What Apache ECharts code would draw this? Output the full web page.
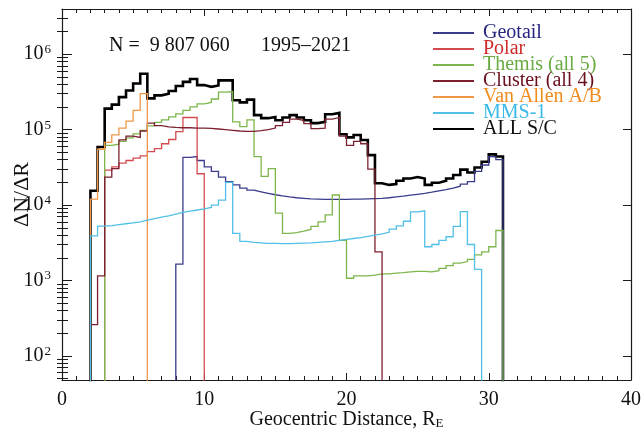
<!DOCTYPE html>
<html>
<head>
<meta charset="utf-8">
<script src="https://cdn.jsdelivr.net/npm/echarts@6/dist/echarts.min.js"></script>
<style>
  html, body { margin: 0; padding: 0; background: #fff; }
  #chart { width: 642px; height: 435px; }
</style>
</head>
<body>
<div id="chart"></div>
<script>
// histograms in 0.5 R_E bins; each list holds counts per bin from its start distance
const binWidth = 0.5;

const allStart = 2.0;
const allSC = [1.55e4, 5.9e4, 1.9e5, 2.15e5, 2.7e5, 3.3e5, 4.1e5, 5.5e5, 2.6e5, 2.85e5,
  3.0e5, 3.25e5, 3.8e5, 4.3e5, 4.7e5, 3.9e5, 3.7e5, 3.85e5, 4.5e5, 4.5e5,
  2.45e5, 2.3e5, 2.5e5, 1.56e5, 1.42e5, 1.47e5, 1.33e5, 1.45e5, 1.56e5, 1.45e5,
  1.33e5, 1.22e5, 1.27e5, 1.6e5, 1.67e5, 8.7e4, 7.9e4, 8.5e4, 7.3e4, 4.6e4,
  1.95e4, 1.85e4, 1.9e4, 2.1e4, 2.25e4, 2.35e4, 2.25e4, 1.85e4, 1.98e4, 2.1e4,
  2.25e4, 2.5e4, 2.95e4, 2.7e4, 3.15e4, 3.75e4, 4.7e4, 4.4e4];

const geotailStart = 8.0;
const geotail = [1.65e3, 4.3e4, 4.4e4, 3.9e4, 3.2e4, 2.8e4, 2.35e4, 2.05e4, 1.85e4, 1.68e4,
  1.58e4, 1.5e4, 1.43e4, 1.37e4, 1.32e4, 1.28e4, 1.25e4, 1.23e4, 1.21e4, 1.2e4,
  1.19e4, 1.19e4, 1.19e4, 1.19e4, 1.2e4, 1.2e4, 1.21e4, 1.22e4, 1.23e4, 1.25e4,
  1.28e4, 1.31e4, 1.35e4, 1.39e4, 1.43e4, 1.48e4, 1.54e4, 1.6e4, 1.68e4, 1.78e4,
  1.9e4, 2.05e4, 2.8e4, 3.4e4, 4.4e4, 4.0e4];

const polarStart = 3.0;
const polar = [2.9e4, 3.2e4, 3.6e4, 3.9e4, 4.2e4, 4.5e4, 5.1e4, 5.6e4, 6.5e4, 7.4e4,
  9.4e4, 1.45e5, 1.45e5, 2.6e4];

const themisStart = 3.0;
const themis = [6.2e4, 6.4e4, 7.0e4, 7.8e4, 8.8e4, 9.8e4, 1.12e5, 1.25e5, 1.35e5, 1.48e5,
  1.62e5, 1.8e5, 2.0e5, 2.2e5, 2.3e5, 2.55e5, 3.15e5, 3.2e5,
  1.27e5, 1.1e5, 1.35e5, 4.4e4, 2.4e4, 3.05e4, 7.8e3, 4.2e3, 4.3e3, 4.5e3,
  4.75e3, 5.2e3, 6.0e3, 7.4e3, 1.36e4, 3.4e3,
  1.07e3, 1.15e3, 1.15e3, 1.18e3, 1.22e3, 1.22e3, 1.25e3, 1.27e3, 1.3e3, 1.32e3,
  1.32e3, 1.3e3, 1.35e3, 1.45e3, 1.57e3, 1.7e3, 1.78e3, 1.9e3, 2.18e3, 2.4e3,
  2.8e3, 4.6e3];

const clusterStart = 2.0;
const cluster = [2.6e2, 1.15e3, 2.35e4, 3.05e4, 7.3e4, 8.2e4, 7.9e4, 9.6e4, 1.22e5, 1.13e5,
  1.09e5, 1.07e5, 1.06e5, 1.06e5, 1.05e5, 1.05e5, 1.04e5, 1.02e5, 1.0e5, 9.8e4,
  9.6e4, 9.5e4, 9.5e4, 9.7e4, 1.0e5, 1.05e5, 1.13e5, 1.25e5, 1.38e5, 1.33e5,
  1.2e5, 1.03e5, 1.05e5, 1.38e5, 1.45e5, 8.2e4, 6.2e4, 7.0e4, 6.5e4, 3.0e4,
  2.4e3];

const vanAllenStart = 2.0;
const vanAllen = [1.2e4, 5.5e4, 6.8e4, 8.5e4, 1.05e5, 1.3e5, 1.8e5, 3.0e5];

const mmsStart = 2.0;
const mms = [3.9e3, 5.25e3, 5.35e3, 5.5e3, 5.65e3, 5.8e3, 6.0e3, 6.3e3, 6.6e3, 6.9e3,
  7.2e3, 7.6e3, 8.0e3, 8.3e3, 8.6e3, 8.9e3, 9.3e3, 1.0e4, 1.16e4, 2.0e4,
  4.2e3, 3.3e3, 3.2e3, 3.15e3, 3.1e3, 3.1e3, 3.08e3, 3.08e3, 3.1e3, 3.12e3,
  3.15e3, 3.2e3, 3.25e3, 3.3e3, 3.4e3, 3.5e3, 3.6e3, 3.7e3, 3.85e3, 4.0e3,
  4.15e3, 4.35e3, 4.8e3, 5.3e3, 6.1e3, 8.1e3, 8.4e3, 2.8e3, 3.0e3, 3.4e3,
  3.8e3, 5.2e3, 8.2e3, 3.0e3, 1.4e3];

// y axis runs on log10(counts)
const yMin = 1.68, yMax = 6.6;
const yMajor = [2, 3, 4, 5, 6];
const yMinor = [];
for (let n = 1; n <= 6; n++) {
  for (let k = 2; k <= 9; k++) {
    const v = Math.log10(k * Math.pow(10, n));
    if (v > yMin && v < yMax) yMinor.push(v);
  }
}
const floorLog = 0; // below the axis bottom, clipped away

function histPoints(start, counts) {
  const pts = [[start, floorLog]];
  counts.forEach(function (c, i) {
    pts.push([start + i * binWidth, Math.log10(c)]);
  });
  pts.push([start + counts.length * binWidth, floorLog]);
  return pts;
}

const font = '"Liberation Serif", "Times New Roman", serif';
const axisColor = '#1a1a1a';

function histSeries(name, start, counts, color, width) {
  return {
    name: name,
    type: 'line',
    step: 'end',
    symbol: 'none',
    clip: true,
    data: histPoints(start, counts),
    lineStyle: { color: color, width: width, join: 'miter', cap: 'butt' },
    itemStyle: { color: color },
  };
}

const yBase = {
  type: 'value',
  min: yMin,
  max: yMax,
  splitLine: { show: false },
  axisLine: { show: true, onZero: false, lineStyle: { color: axisColor, width: 1.2 } },
};
const xBase = {
  type: 'value',
  min: 0,
  max: 40,
  interval: 10,
  splitLine: { show: false },
  axisLine: { show: true, onZero: false, lineStyle: { color: axisColor, width: 1.2 } },
  axisTick: { inside: true, length: 7, lineStyle: { color: axisColor } },
  minorTick: { show: true, splitNumber: 10, length: 4, lineStyle: { color: axisColor } },
};

const option = {
  animation: false,
  backgroundColor: '#fff',
  grid: { left: 62, right: 11, top: 9, bottom: 55, outerBoundsMode: 'none', containLabel: false },
  title: [
    { text: 'N =  9 807 060', left: 109, top: 36, padding: 0,
      textStyle: { fontFamily: font, fontWeight: 'normal', fontSize: 20, color: '#111' } },
    { text: '1995–2021', left: 261, top: 36, padding: 0,
      textStyle: { fontFamily: font, fontWeight: 'normal', fontSize: 20, color: '#111' } },
  ],
  legend: {
    orient: 'vertical',
    left: 432,
    top: 23,
    padding: 0,
    itemWidth: 41,
    itemHeight: 10,
    itemGap: -4,
    selectedMode: false,
    itemStyle: { opacity: 0 },
    textStyle: { fontFamily: font, fontSize: 20, padding: [0, 0, 0, 4] },
    data: [
      { name: 'Geotail', textStyle: { color: '#262680' } },
      { name: 'Polar', textStyle: { color: '#d12a2a' } },
      { name: 'Themis (all 5)', textStyle: { color: '#6aab43' } },
      { name: 'Cluster (all 4)', textStyle: { color: '#6a0f1c' } },
      { name: 'Van Allen A/B', textStyle: { color: '#f08c1e' } },
      { name: 'MMS-1', textStyle: { color: '#3bb9e8' } },
      { name: 'ALL S/C', textStyle: { color: '#111' } },
    ],
  },
  xAxis: [
    Object.assign({}, xBase, {
      position: 'bottom',
      axisLabel: { margin: 10, fontFamily: font, fontSize: 20, color: '#111' },
      name: '{a|Geocentric Distance, R}{e|E}',
      nameLocation: 'middle',
      nameGap: 30,
      nameMoveOverlap: false,
      nameTextStyle: {
        rich: {
          a: { fontFamily: font, fontSize: 20, color: '#111', lineHeight: 20 },
          e: { fontFamily: font, fontSize: 13, color: '#111', lineHeight: 20, verticalAlign: 'bottom', padding: [8, 0, 0, 0] },
        },
      },
    }),
    Object.assign({}, xBase, { position: 'top', axisLabel: { show: false } }),
  ],
  yAxis: [
    Object.assign({}, yBase, {
      position: 'left',
      axisTick: { inside: true, length: 10, customValues: yMajor, lineStyle: { color: axisColor } },
      axisLabel: {
        customValues: yMajor,
        margin: 11,
        formatter: function (v) { return '{b|10}{s|' + Math.round(v) + '}'; },
        rich: {
          b: { fontFamily: font, fontSize: 20, color: '#111', lineHeight: 22 },
          s: { fontFamily: font, fontSize: 13, color: '#111', lineHeight: 22, verticalAlign: 'top', padding: [0, 0, 12, 1] },
        },
      },
      name: 'ΔN/ΔR',
      nameLocation: 'middle',
      nameGap: 29,
      nameMoveOverlap: false,
      nameTextStyle: { fontFamily: font, fontSize: 22, color: '#111' },
    }),
    Object.assign({}, yBase, {
      position: 'left',
      axisLine: { show: false },
      axisTick: { inside: true, length: 6, customValues: yMinor, lineStyle: { color: axisColor } },
      axisLabel: { show: false },
    }),
    Object.assign({}, yBase, {
      position: 'right',
      axisTick: { inside: true, length: 8, customValues: yMajor, lineStyle: { color: axisColor } },
      axisLabel: { show: false },
    }),
    Object.assign({}, yBase, {
      position: 'right',
      axisLine: { show: false },
      axisTick: { inside: true, length: 5, customValues: yMinor, lineStyle: { color: axisColor } },
      axisLabel: { show: false },
    }),
  ],
  series: [
    histSeries('ALL S/C', allStart, allSC, '#000000', 2.6),
    histSeries('Geotail', geotailStart, geotail, '#3b3b8c', 1.3),
    histSeries('Polar', polarStart, polar, '#d44b4f', 1.3),
    histSeries('Themis (all 5)', themisStart, themis, '#7db64c', 1.3),
    histSeries('Cluster (all 4)', clusterStart, cluster, '#7c2030', 1.3),
    histSeries('Van Allen A/B', vanAllenStart, vanAllen, '#f0984a', 1.3),
    histSeries('MMS-1', mmsStart, mms, '#52bfe6', 1.3),
  ],
};

var chartDom = document.getElementById('chart');
var myChart = echarts.init(chartDom, null, { renderer: 'canvas' });
myChart.setOption(option);
</script>
</body>
</html>
